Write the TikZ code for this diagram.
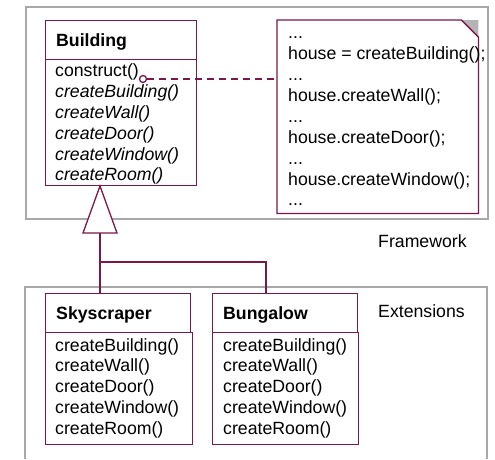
\documentclass[tikz,border=0pt]{standalone}
\usepackage{fontspec}
\setmainfont{Liberation Sans}
\definecolor{umlred}{RGB}{122,24,74}
\definecolor{framegray}{RGB}{168,168,168}
\definecolor{foldgray}{RGB}{180,180,180}
\newcommand{\umlfont}{\fontsize{17.7}{20.8}\selectfont}
\tikzset{
  framebox/.style={draw=framegray, line width=1.5pt},
  umlline/.style={draw=umlred, line width=1.3pt},
  clsbox/.style={umlline, fill=white, anchor=north west, inner sep=0pt},
  txt/.style={anchor=base west, inner sep=0pt, font=\umlfont},
  boldtxt/.style={txt, font=\umlfont\bfseries},
  ittxt/.style={txt, font=\umlfont\itshape},
}
\begin{document}
\begin{tikzpicture}[x=1pt,y=-1pt]
\useasboundingbox (0,0) rectangle (495,459);
\fill[white] (0,0) rectangle (495,459);

% package frames
\node[framebox, anchor=north west, inner sep=0pt, minimum width=462pt, minimum height=212pt] (fw) at (25,6) {};
\draw[framebox] (25,459) -- (25,287) -- (487,287) -- (487,459);
\node[txt] (fwlabel) at (378,247.5) {Framework};
\node[txt] (extlabel) at (378,317) {Extensions};

% Building class
\node[clsbox, minimum width=151pt, minimum height=39pt] (bh) at (45,20) {};
\node[clsbox, minimum width=151pt, minimum height=126pt] (bb) at (45,59) {};
\node[boldtxt] (bname) at (56,46) {Building};
\node[txt] (b1) at (55,76.8) {construct()};
\node[ittxt] (b2) at (55,97.6) {createBuilding()};
\node[ittxt] (b3) at (55,118.4) {createWall()};
\node[ittxt] (b4) at (55,139.2) {createDoor()};
\node[ittxt] (b5) at (55,160) {createWindow()};
\node[ittxt] (b6) at (55,180.8) {createRoom()};

% note
\node[anchor=north west, inner sep=0pt, minimum width=201pt, minimum height=193pt] (note) at (277,20) {};
\fill[white] (note.north west) -- ([xshift=-17pt]note.north east) -- ([yshift=-17pt]note.north east) -- (note.south east) -- (note.south west) -- cycle;
\fill[foldgray] ([xshift=-17pt]note.north east) -- (note.north east) -- ([yshift=-17pt]note.north east) -- cycle;
\draw[umlline] (note.north west) -- ([xshift=-17pt]note.north east) -- ([yshift=-17pt]note.north east) -- (note.south east) -- (note.south west) -- cycle;
\node[txt] (n1) at (288,38.7) {...};
\node[txt] (n2) at (288,59.6) {house = createBuilding();};
\node[txt] (n3) at (288,80.5) {...};
\node[txt] (n4) at (288,101.4) {house.createWall();};
\node[txt] (n5) at (288,122.3) {...};
\node[txt] (n6) at (288,143.2) {house.createDoor();};
\node[txt] (n7) at (288,164.1) {...};
\node[txt] (n8) at (288,185) {house.createWindow();};
\node[txt] (n9) at (288,205.9) {...};

% dashed link from construct() to the note
\node[circle, umlline, fill=white, minimum size=7pt, inner sep=0pt] (hook) at (143,79) {};
\draw[umlline, dash pattern=on 7pt off 5pt] (hook.east) -- (hook.east -| note.west);

% Skyscraper class
\node[clsbox, minimum width=145pt, minimum height=39pt] (sh) at (45,293) {};
\node[clsbox, minimum width=147pt, minimum height=112pt] (sb) at (45,332) {};
\node[boldtxt] (sname) at (56,319.3) {Skyscraper};
\node[txt] (s1) at (55,351) {createBuilding()};
\node[txt] (s2) at (55,371.8) {createWall()};
\node[txt] (s3) at (55,392.6) {createDoor()};
\node[txt] (s4) at (55,413.4) {createWindow()};
\node[txt] (s5) at (55,434.2) {createRoom()};

% Bungalow class
\node[clsbox, minimum width=145pt, minimum height=39pt] (gh) at (212,293) {};
\node[clsbox, minimum width=146pt, minimum height=112pt] (gb) at (212,332) {};
\node[boldtxt] (gname) at (223,319.3) {Bungalow};
\node[txt] (g1) at (223,351) {createBuilding()};
\node[txt] (g2) at (223,371.8) {createWall()};
\node[txt] (g3) at (223,392.6) {createDoor()};
\node[txt] (g4) at (223,413.4) {createWindow()};
\node[txt] (g5) at (223,434.2) {createRoom()};

% generalization
\coordinate (apex) at (100,186);
\coordinate (tb) at (100,233);
\coordinate (j) at (100,262);
\coordinate (bj) at (266,262);
\draw[umlline] (tb) -- (tb |- sh.north);
\draw[umlline] (j) -- (bj) -- (bj |- gh.north);
\draw[umlline, fill=white] (apex) -- ([xshift=17pt]tb) -- ([xshift=-17pt]tb) -- cycle;
\end{tikzpicture}
\end{document}
